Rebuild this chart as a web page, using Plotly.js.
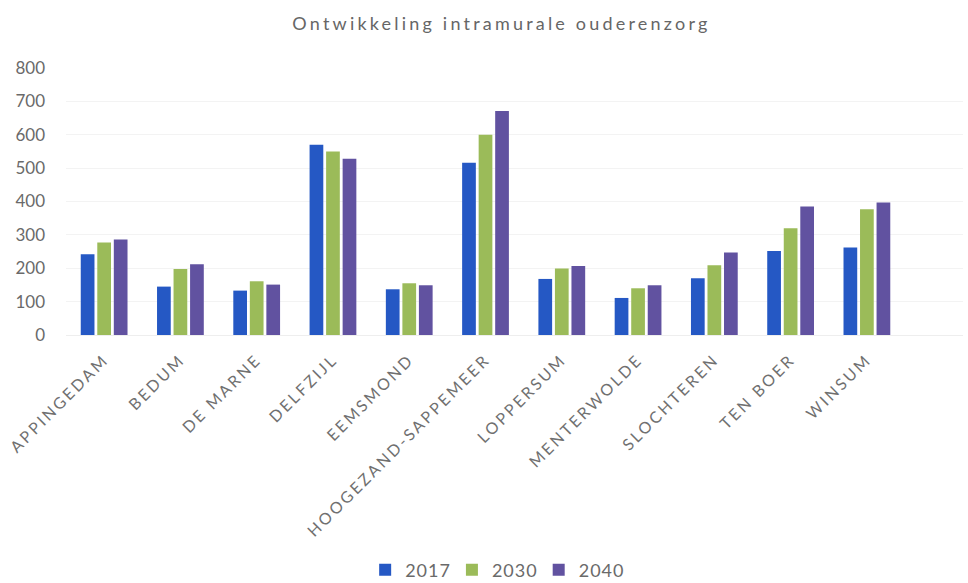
<!DOCTYPE html>
<html>
<head>
<meta charset="utf-8">
<script src="https://cdn.plot.ly/plotly-3.0.1.min.js"></script>
<style>
html,body{margin:0;padding:0;background:#fff;}
#chart{width:968px;height:583px;}
#chart .gtitle{letter-spacing:3.2px;}
#chart .xtick text{letter-spacing:2.6px;}
#chart .legendtext{letter-spacing:1px;}
</style>
</head>
<body>
<div id="chart"></div>
<script>
var categories = ["APPINGEDAM","BEDUM","DE MARNE","DELFZIJL","EEMSMOND","HOOGEZAND-SAPPEMEER","LOPPERSUM","MENTERWOLDE","SLOCHTEREN","TEN BOER","WINSUM"];
var values2017 = [242,145,133,570,137,516,168,111,170,252,262];
var values2030 = [277,198,161,550,155,600,199,140,209,320,377];
var values2040 = [286,212,151,528,149,671,207,149,247,385,397];
var seriesNames = ["2017","2030","2040"];

var colors = ["#2558c4","#9bbb59","#6152a0"];
var data = [values2017, values2030, values2040].map(function(v,i){
  return {type:"bar", x:categories, y:v, name:seriesNames[i], marker:{color:colors[i]}, hoverinfo:"y"};
});

var layout = {
  width:968, height:583,
  margin:{l:66, r:5, t:68, b:248, autoexpand:false},
  paper_bgcolor:"#fff", plot_bgcolor:"#fff",
  font:{family:"Lato, 'Open Sans', sans-serif", color:"#6a6a6a", size:14},
  title:{text:"Ontwikkeling intramurale ouderenzorg", x:0.518, xanchor:"center", y:0.96, yanchor:"middle", font:{size:18, color:"#666666"}},
  bargap:0.35, bargroupgap:0.17,
  xaxis:{tickangle:-45, range:[-0.5, 11.26], tickfont:{size:16, color:"#707070"}, ticklabelstandoff:8, showline:true, linecolor:"#eeeeee", ticks:"", automargin:false},
  yaxis:{range:[0,800], dtick:100, showgrid:true, gridcolor:"#f3f3f3", zeroline:false, tickfont:{size:17, color:"#6a6a6a"}, ticklabelstandoff:20, automargin:false},
  legend:{orientation:"h", x:0.479, xanchor:"center", y:-0.88, yanchor:"middle", font:{size:18, color:"#6a6a6a"}, itemwidth:30, traceorder:"normal"},
  showlegend:true
};
Plotly.newPlot("chart", data, layout, {displayModeBar:false, staticPlot:true});
</script>
</body>
</html>
